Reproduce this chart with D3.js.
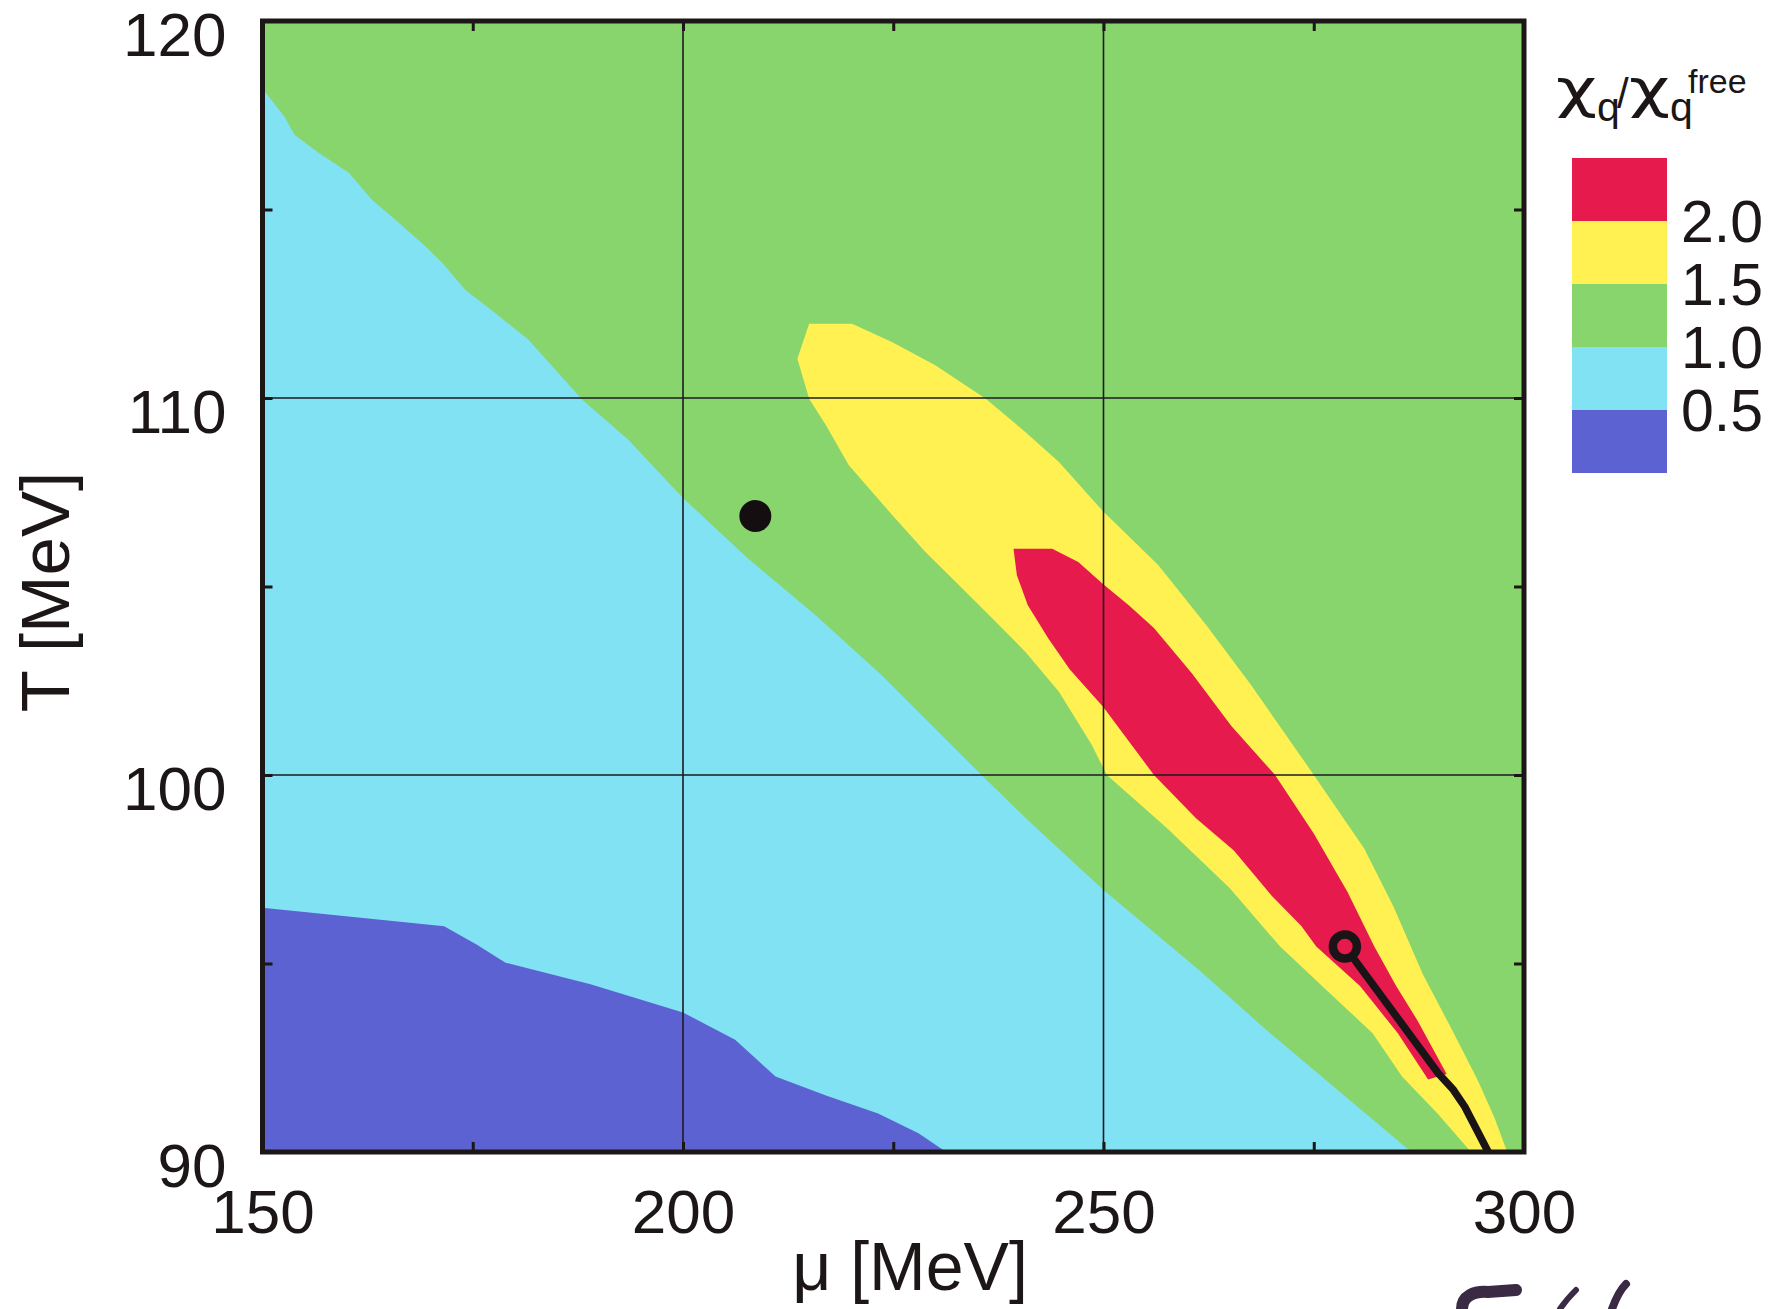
<!DOCTYPE html>
<html>
<head>
<meta charset="utf-8">
<script src="https://cdn.jsdelivr.net/npm/d3@7"></script>
<style>
  body { margin: 0; background: #ffffff; }
  svg { display: block; }
  .tick line { stroke: #1c1616; stroke-width: 3; }
  .tick text { fill: #1c1616; }
</style>
</head>
<body>
<svg id="chart" width="1786" height="1309"></svg>
<script>
// Quark number susceptibility chi_q / chi_q^free in the (mu, T) plane.
// Contour boundaries are given as [mu (MeV), T (MeV)] pairs.

const levels = [0.5, 1.0, 1.5, 2.0];
const bandColors = ["#5c62d2", "#80e2f2", "#88d56e", "#fff152", "#e61a4c"]; // <0.5, 0.5-1, 1-1.5, 1.5-2, >2

const muTicks = [150, 175, 200, 225, 250, 275, 300];
const tTicks = [90, 95, 100, 105, 110, 115, 120];
const muGrid = [200, 250];
const tGrid = [100, 110];

// chi = 0.5 line (upper edge of the lowest band)
const contour05 = [
  [150, 96.48], [171.6, 95.99], [175.5, 95.5], [178.9, 95.02], [189, 94.45],
  [200, 93.7], [206.2, 92.98], [211, 92.0], [217, 91.5], [223.2, 91.02],
  [228, 90.5], [231.3, 90]
];

// chi = 1.0 line
const contour10 = [
  [150, 118.2], [152.6, 117.47], [153.8, 116.98], [156.7, 116.5], [160.3, 115.97],
  [163.0, 115.26], [165.8, 114.73], [169.4, 114.02], [171.4, 113.58], [174.1, 112.87],
  [177.7, 112.25], [181.6, 111.55], [188.0, 109.96], [193.5, 108.89], [200, 107.35],
  [207.7, 105.75], [215.7, 104.25], [223.6, 102.65], [235.5, 100], [241.5, 98.7],
  [250, 96.95], [261.5, 94.8], [269.2, 93.27], [286.6, 90]
];

// chi = 1.5 closed contour
const contour15 = [
  [215.0, 111.97], [220.1, 111.97], [224.9, 111.48], [230.0, 110.87], [236.0, 109.98],
  [240.7, 109.1], [244.7, 108.3], [250, 106.98], [256.5, 105.57], [262.3, 103.95],
  [267.5, 102.4], [274.7, 100.1], [277, 99.35], [281, 98.05], [284.5, 96.5],
  [288, 94.7], [291.3, 93.3], [294.5, 91.9], [296.5, 90.9], [298, 90],
  [293.7, 90], [289.8, 91.0], [285.5, 92.0], [282, 93.15], [276.5, 94.3],
  [271, 95.45], [265, 97.0], [257.5, 98.6], [250.4, 100], [248.6, 100.8],
  [244.7, 102.21], [240.7, 103.27], [236.8, 104.15], [232.8, 105.04], [228.8, 105.92],
  [224.9, 106.89], [219.7, 108.22], [217.0, 109.28], [215.0, 109.98], [213.6, 111.04]
];

// chi = 2.0 closed contour
const contour20 = [
  [239.3, 106.0], [243.9, 106.0], [247.0, 105.65], [250, 105.05], [253, 104.5],
  [256, 103.9], [260.5, 102.7], [265.2, 101.3], [270.4, 100], [275, 98.45],
  [279, 96.9], [282.2, 95.45], [284.8, 94.4], [287.3, 93.5], [290.8, 92.07],
  [288.6, 91.92], [285, 93.15], [280.5, 94.4], [275.3, 95.45], [273.5, 96.0],
  [270, 96.8], [265.5, 98.0], [261, 98.85], [256, 100], [250, 101.8],
  [246, 102.8], [243.5, 103.6], [241.0, 104.5], [239.7, 105.3]
];

// first-order line ending at the critical point
const criticalPoint = [278.7, 95.45];
const firstOrderLine = [[278.7, 95.45], [289.8, 92.09], [291.6, 91.65], [292.96, 91.2], [295.75, 90]];
const filledPoint = [208.6, 106.87];

const font = "'Liberation Sans', Arial, Helvetica, sans-serif";
const ink = "#1c1616";

const svg = d3.select("#chart");
const x = d3.scaleLinear().domain([150, 300]).range([262.5, 1524]);
const y = d3.scaleLinear().domain([90, 120]).range([1152, 21]);

svg.append("defs").append("clipPath").attr("id", "plotClip")
  .append("rect")
  .attr("x", x(150)).attr("y", y(120))
  .attr("width", x(300) - x(150)).attr("height", y(90) - y(120));

const plot = svg.append("g").attr("clip-path", "url(#plotClip)");
const line = d3.line().x(d => x(d[0])).y(d => y(d[1]));

// band 1.0 - 1.5 fills the background
plot.append("rect")
  .attr("x", x(150)).attr("y", y(120))
  .attr("width", x(300) - x(150)).attr("height", y(90) - y(120))
  .attr("fill", bandColors[2]);

// 0.5 - 1.0 below the chi = 1 line
plot.append("path")
  .attr("d", line(contour10.concat([[150, 90]])) + "Z")
  .attr("fill", bandColors[1]);

// < 0.5 below the chi = 0.5 line
plot.append("path")
  .attr("d", line(contour05.concat([[150, 90]])) + "Z")
  .attr("fill", bandColors[0]);

// 1.5 - 2.0 and > 2.0
plot.append("path").attr("d", line(contour15) + "Z").attr("fill", bandColors[3]);
plot.append("path").attr("d", line(contour20) + "Z").attr("fill", bandColors[4]);

// grid lines
plot.selectAll("line.gx").data(muGrid).join("line")
  .attr("x1", d => x(d)).attr("x2", d => x(d))
  .attr("y1", y(120)).attr("y2", y(90))
  .attr("stroke", "#1c1a22").attr("stroke-width", 1.6);
plot.selectAll("line.gy").data(tGrid).join("line")
  .attr("y1", d => y(d)).attr("y2", d => y(d))
  .attr("x1", x(150)).attr("x2", x(300))
  .attr("stroke", "#1c1a22").attr("stroke-width", 1.6);

// first-order line, trimmed to start at the open circle's ring
const ringR = 12;
const p0 = [x(firstOrderLine[0][0]), y(firstOrderLine[0][1])];
const p1 = [x(firstOrderLine[1][0]), y(firstOrderLine[1][1])];
const len = Math.hypot(p1[0] - p0[0], p1[1] - p0[1]);
const start = [p0[0] + (p1[0] - p0[0]) * ringR / len, p0[1] + (p1[1] - p0[1]) * ringR / len];
const pix = firstOrderLine.slice(1).map(d => [x(d[0]), y(d[1])]);
plot.append("path")
  .attr("d", d3.line()([start].concat(pix)))
  .attr("fill", "none").attr("stroke", "#1a1416").attr("stroke-width", 7.5)
  .attr("stroke-linejoin", "round");

plot.append("circle")
  .attr("cx", x(criticalPoint[0])).attr("cy", y(criticalPoint[1]))
  .attr("r", ringR).attr("fill", "none")
  .attr("stroke", "#1a1416").attr("stroke-width", 8.5);

plot.append("circle")
  .attr("cx", x(filledPoint[0])).attr("cy", y(filledPoint[1]))
  .attr("r", 16).attr("fill", "#140e10");

// axes with inward ticks
const fmtMu = d => (d % 50 === 0 ? d : "");
const fmtT = d => (d % 10 === 0 ? d : "");

const gx = svg.append("g").attr("transform", `translate(0,${y(90)})`)
  .call(d3.axisBottom(x).tickValues(muTicks).tickSize(-10).tickPadding(37).tickFormat(fmtMu));
gx.selectAll("text").attr("font-family", font).attr("font-size", 62);

const gy = svg.append("g").attr("transform", `translate(${x(150)},0)`)
  .call(d3.axisLeft(y).tickValues(tTicks).tickSize(-10).tickPadding(36).tickFormat(fmtT));
gy.selectAll("text").attr("font-family", font).attr("font-size", 62).attr("dy", "0.55em");

svg.append("g").attr("transform", `translate(0,${y(120)})`)
  .call(d3.axisTop(x).tickValues(muTicks).tickSize(-10).tickFormat(""));
svg.append("g").attr("transform", `translate(${x(300)},0)`)
  .call(d3.axisRight(y).tickValues(tTicks).tickSize(-10).tickFormat(""));

svg.selectAll(".domain").remove();

// frame
svg.append("rect")
  .attr("x", x(150)).attr("y", y(120))
  .attr("width", x(300) - x(150)).attr("height", y(90) - y(120))
  .attr("fill", "none").attr("stroke", ink).attr("stroke-width", 5);

// axis titles
svg.append("text")
  .attr("x", 910).attr("y", 1290)
  .attr("text-anchor", "middle")
  .attr("font-family", font).attr("font-size", 68).attr("fill", ink)
  .text("μ [MeV]");

svg.append("text")
  .attr("transform", "translate(69,592) rotate(-90)")
  .attr("text-anchor", "middle")
  .attr("font-family", font).attr("font-size", 69).attr("fill", ink)
  .text("T [MeV]");

// colour legend
const legendScale = d3.scaleLinear().domain([2.5, 0]).range([158, 473]);
const legend = svg.append("g");
legend.selectAll("rect").data(bandColors).join("rect")
  .attr("x", 1572).attr("width", 95)
  .attr("y", (d, i) => legendScale((i + 1) * 0.5))
  .attr("height", (d, i) => legendScale(i * 0.5) - legendScale((i + 1) * 0.5))
  .attr("fill", d => d);
legend.selectAll("text").data(levels).join("text")
  .attr("x", 1681).attr("y", d => legendScale(d))
  .attr("dy", "0.36em")
  .attr("font-family", font).attr("font-size", 59).attr("fill", ink)
  .text(d => d.toFixed(1));

// legend title: chi_q / chi_q^free
const title = svg.append("g").attr("font-family", "'DejaVu Sans', sans-serif").attr("fill", ink);
title.append("text").attr("x", 1556).attr("y", 107).attr("font-size", 54)
  .attr("textLength", 41).attr("lengthAdjust", "spacingAndGlyphs").text("χ");
title.append("text").attr("x", 1597).attr("y", 121).attr("font-size", 41)
  .attr("font-family", font).text("q");
title.append("text").attr("x", 1617).attr("y", 108).attr("font-size", 42)
  .attr("font-family", font).text("/");
title.append("text").attr("x", 1629).attr("y", 107).attr("font-size", 54)
  .attr("textLength", 41).attr("lengthAdjust", "spacingAndGlyphs").text("χ");
title.append("text").attr("x", 1670).attr("y", 121).attr("font-size", 41)
  .attr("font-family", font).text("q");
title.append("text").attr("x", 1688).attr("y", 93).attr("font-size", 34)
  .attr("font-family", font).text("free");

// pen marks at the lower edge of the page
const pen = svg.append("g").attr("fill", "none").attr("stroke", "#3b2a44")
  .attr("stroke-linecap", "round");
pen.append("path").attr("d", "M1462,1309 C1462,1296 1474,1291 1488,1292 L1516,1290").attr("stroke-width", 12);
pen.append("path").attr("d", "M1560,1309 C1566,1300 1572,1294 1576,1290").attr("stroke-width", 6);
pen.append("path").attr("d", "M1612,1309 C1616,1298 1620,1290 1626,1284").attr("stroke-width", 8);
</script>
</body>
</html>
